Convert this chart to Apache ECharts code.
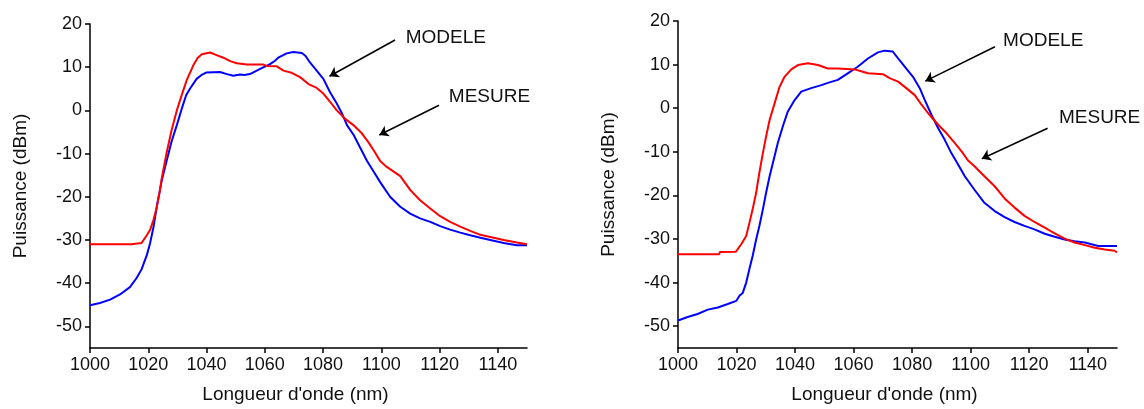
<!DOCTYPE html>
<html>
<head>
<meta charset="utf-8">
<script src="https://cdn.jsdelivr.net/npm/echarts@6/dist/echarts.min.js"></script>
<style>
html,body{margin:0;padding:0;background:#fff;}
#chart{width:1144px;height:409px;}
</style>
</head>
<body>
<div id="chart"></div>
<script>
// ---- Data (wavelength nm, power dBm) ----
const xTicks = [1000, 1020, 1040, 1060, 1080, 1100, 1120, 1140];
const yTicks = [-50, -40, -30, -20, -10, 0, 10, 20];

const leftMesure = [[1000,-31.0],[1014.2,-31.0],[1014.4,-30.7],[1017.7,-30.7],[1019.5,-28.9],[1020.6,-27.7],[1021.8,-25.3],[1022.9,-22.4],[1024,-18.5],[1024.6,-15.8],[1026.3,-9.8],[1028,-4.6],[1029.8,0.0],[1031.5,3.6],[1033.2,7.0],[1035.5,10.5],[1037,12.2],[1038.4,13.0],[1041.2,13.4],[1043,12.9],[1045.8,12.2],[1048.1,11.4],[1050.4,10.9],[1053.8,10.6],[1059.5,10.6],[1060.6,10.3],[1064.1,10.2],[1066.4,9.2],[1069.2,8.7],[1072.1,7.7],[1075,6.1],[1077.8,5.2],[1080.1,3.9],[1082.4,2.0],[1084.7,0.0],[1087.5,-1.9],[1090.4,-3.4],[1093.3,-5.3],[1095.6,-7.4],[1097.9,-9.8],[1099.6,-11.7],[1101.5,-12.9],[1103,-13.6],[1106.5,-15.2],[1109.9,-18.4],[1113.3,-20.8],[1116.8,-22.7],[1120.2,-24.5],[1123.6,-25.8],[1127.1,-26.9],[1130.5,-27.9],[1134,-28.8],[1137.4,-29.3],[1142,-30.0],[1146.5,-30.6],[1150,-31.0]];

const leftModele = [[1000,-45.1],[1003.4,-44.6],[1006.9,-43.8],[1010.3,-42.6],[1013.7,-40.9],[1016,-38.8],[1017.7,-36.8],[1019.5,-33.5],[1020.6,-30.8],[1021.8,-27.0],[1022.9,-22.4],[1024.6,-16.3],[1026.3,-11.7],[1028,-7.2],[1029.8,-3.4],[1031.5,0.4],[1033,3.5],[1034.3,5.0],[1036.6,7.3],[1038.5,8.3],[1040,8.8],[1044.6,8.9],[1047,8.4],[1049.2,8.0],[1051.5,8.3],[1053,8.2],[1054.9,8.4],[1058.4,9.6],[1061.8,10.7],[1063.5,11.5],[1064.6,12.2],[1067.5,13.2],[1069.8,13.5],[1072.7,13.3],[1074,12.6],[1075.5,11.1],[1077.8,9.2],[1080.1,7.3],[1082.4,4.2],[1084.7,1.6],[1086.5,-0.7],[1088.2,-3.4],[1090.5,-5.7],[1092.8,-8.7],[1095.1,-11.7],[1097.4,-14.2],[1099.6,-16.6],[1103,-20.0],[1106.5,-22.3],[1109.9,-23.9],[1113.3,-25.0],[1116.8,-25.8],[1120.2,-26.8],[1123.6,-27.6],[1127.1,-28.3],[1130.5,-28.9],[1134,-29.5],[1137.4,-30.0],[1142,-30.7],[1146.5,-31.2],[1150,-31.2]];

const rightMesure = [[1000,-33.5],[1014.1,-33.5],[1014.3,-33.0],[1019.8,-32.9],[1021.6,-31.2],[1023.3,-29.3],[1024.4,-26.3],[1025.5,-23.2],[1026.7,-19.4],[1027.8,-14.8],[1029,-10.3],[1030.1,-6.5],[1031.3,-2.7],[1033,1.1],[1034.7,4.9],[1036.4,7.2],[1038.7,8.9],[1041,9.9],[1044.4,10.3],[1047.8,9.9],[1051.2,9.1],[1054.6,9.1],[1060.3,8.9],[1062,8.6],[1064.9,8.0],[1070,7.8],[1072.3,6.9],[1075.2,6.1],[1078,4.6],[1080.9,3.0],[1083.2,0.8],[1085.4,-1.1],[1088.9,-3.8],[1091.7,-5.7],[1094.6,-8.0],[1096.9,-9.9],[1099.1,-12.0],[1101.3,-13.3],[1104.7,-15.6],[1108.2,-17.9],[1111.6,-20.7],[1115,-22.8],[1118.4,-24.7],[1121.8,-26.1],[1125.3,-27.4],[1128.7,-28.7],[1132.1,-29.9],[1135.5,-30.8],[1139,-31.4],[1142.4,-32.0],[1145.8,-32.4],[1149.2,-32.7],[1150,-33.1]];

const rightModele = [[1000,-48.7],[1003.3,-47.9],[1006.7,-47.2],[1010.2,-46.2],[1013.6,-45.7],[1017,-44.9],[1019.9,-44.2],[1021,-43.0],[1022.1,-42.4],[1023.3,-40.0],[1024.4,-36.9],[1025.5,-33.9],[1026.7,-30.1],[1027.8,-27.0],[1029,-23.2],[1030.1,-19.4],[1031.3,-15.6],[1032.4,-12.6],[1034.1,-8.0],[1035.8,-4.2],[1037.5,-0.8],[1039.8,1.8],[1042.1,3.8],[1045.5,4.6],[1049,5.3],[1051.2,5.8],[1054.6,6.5],[1058,8.0],[1061.4,9.5],[1064.9,11.4],[1068.3,12.8],[1070.6,13.2],[1073.4,13.0],[1075.7,11.0],[1078,9.1],[1080.3,7.2],[1082.6,4.6],[1084.3,1.9],[1086.6,-1.5],[1088.9,-4.6],[1091.1,-7.2],[1093.4,-10.3],[1095.7,-12.9],[1098,-15.6],[1101.3,-18.7],[1104.7,-21.7],[1108.2,-23.6],[1111.6,-25.0],[1115,-26.1],[1118.4,-27.0],[1121.8,-27.8],[1125.3,-28.8],[1128.7,-29.5],[1132.1,-30.1],[1135.5,-30.5],[1139,-30.8],[1143.6,-31.6],[1150,-31.6]];

// annotations (data coordinates): arrow tail, arrow head, text anchor
const leftNotes = [
  {label:'MODELE', from:[1104.7,16.3], to:[1082.2,7.9], text:[1108.2,16.8]},
  {label:'MESURE', from:[1119.8,1.2], to:[1099.3,-5.7], text:[1123.0,3.1]}
];
const rightNotes = [
  {label:'MODELE', from:[1108.3,14.1], to:[1084.5,6.2], text:[1110.9,15.4]},
  {label:'MESURE', from:[1126.3,-4.6], to:[1103.8,-11.6], text:[1130.0,-2.3]}
];

const FONT = '"Liberation Sans", Arial, sans-serif';
const TXT = '#111';

function xAxisCfg(gi){
  return {
    type:'value', gridIndex:gi, min:1000, max:1150,
    axisLine:{show:true, onZero:false, lineStyle:{color:'#000', width:1.5}},
    axisTick:{show:true, length:5, customValues:xTicks, lineStyle:{color:'#000', width:1.5}},
    axisLabel:{customValues:xTicks, color:TXT, fontSize:18, fontFamily:FONT, margin:8,
      formatter: v => String(v)},
    splitLine:{show:false},
    name:"Longueur d'onde (nm)", nameLocation:'middle', nameGap:37,
    nameTextStyle:{color:TXT, fontSize:19, fontFamily:FONT, padding:[0,26,0,0]}
  };
}
function yAxisCfg(gi){
  return {
    type:'value', gridIndex:gi, min:-55, max:20,
    axisLine:{show:true, onZero:false, lineStyle:{color:'#000', width:1.5}},
    axisTick:{show:true, length:5, customValues:yTicks, lineStyle:{color:'#000', width:1.5}},
    axisLabel:{customValues:yTicks, color:TXT, fontSize:18, fontFamily:FONT, margin:8,
      formatter: v => String(v)},
    splitLine:{show:false},
    name:'Puissance (dBm)', nameLocation:'middle', nameGap:60,
    nameTextStyle:{color:TXT, fontSize:19, fontFamily:FONT}
  };
}
function notesMarks(notes){
  return {
    markLine:{
      silent:true, symbol:['none','arrow'], symbolSize:9,
      lineStyle:{color:'#000', width:1.5, type:'solid'},
      label:{show:false},
      data: notes.map(n => [{coord:n.from}, {coord:n.to}])
    },
    markPoint:{
      silent:true, symbol:'circle', symbolSize:1,
      itemStyle:{color:'rgba(0,0,0,0)'},
      label:{show:true, position:'right', distance:0, color:TXT, fontSize:19, fontFamily:FONT,
        formatter: p => p.name},
      data: notes.map(n => ({name:n.label, coord:n.text}))
    }
  };
}
function lineSeries(data, color, gi, extra){
  return Object.assign({
    type:'line', xAxisIndex:gi, yAxisIndex:gi, data:data,
    showSymbol:false, symbol:'none',
    lineStyle:{color:color, width:2}, itemStyle:{color:color},
    z:2
  }, extra || {});
}

const chart = echarts.init(document.getElementById('chart'), null, {renderer:'canvas'});
chart.setOption({
  animation:false,
  backgroundColor:'#fff',
  grid:[
    {left:90, top:24, width:437, height:326},
    {left:678, top:21, width:439, height:328}
  ],
  xAxis:[xAxisCfg(0), xAxisCfg(1)],
  yAxis:[yAxisCfg(0), yAxisCfg(1)],
  series:[
    lineSeries(leftModele, '#0000ff', 0),
    lineSeries(leftMesure, '#ff0000', 0, notesMarks(leftNotes)),
    lineSeries(rightModele, '#0000ff', 1),
    lineSeries(rightMesure, '#ff0000', 1, notesMarks(rightNotes))
  ]
});
</script>
</body>
</html>
